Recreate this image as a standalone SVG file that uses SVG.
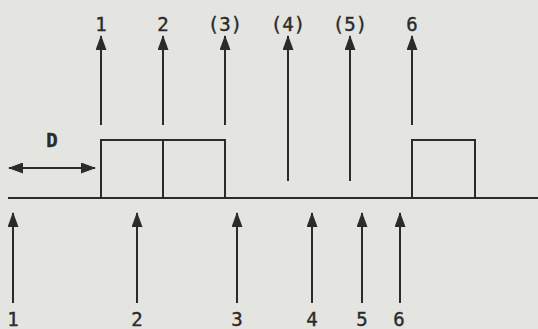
<svg xmlns="http://www.w3.org/2000/svg" width="538" height="329" viewBox="0 0 538 329">
  <defs>
    <marker id="ah" viewBox="0 0 15 11" refX="14" refY="5.5" markerWidth="15" markerHeight="11" markerUnits="userSpaceOnUse" orient="auto-start-reverse">
      <path d="M0,0 L15,5.5 L0,11 Z" fill="#2b2b2b"/>
    </marker>
  </defs>
  <style>
    .ln { stroke: #2b2b2b; stroke-width: 2; fill: none; }
    .ar { stroke: #2b2b2b; stroke-width: 2; fill: none; marker-end: url(#ah); }
    .da { stroke: #2b2b2b; stroke-width: 2; fill: none; marker-end: url(#ah); marker-start: url(#ah); }
    .lb { font-family: "DejaVu Sans Mono", "Liberation Mono", monospace; font-size: 19px; fill: #2b2b2b; stroke: #2b2b2b; stroke-width: 0.4; text-anchor: middle; }
  </style>
  <rect x="0" y="0" width="538" height="329" fill="#e4e4e1"/>

  <g id="baseline">
    <line class="ln" x1="8" y1="198" x2="538" y2="198"/>
  </g>

  <g id="boxes">
    <path class="ln" d="M101,198 V140 H225 V198 M163,140 V198"/>
    <path class="ln" d="M412,198 V140 H475 V198"/>
  </g>

  <g id="D">
    <text class="lb" x="52" y="147" font-weight="bold">D</text>
  </g>

  <g id="connectors">
    <line class="da" x1="9" y1="168" x2="95" y2="168"/>
    <line class="ar" x1="101" y1="125" x2="101" y2="36"/>
    <line class="ar" x1="163" y1="125" x2="163" y2="36"/>
    <line class="ar" x1="225" y1="125" x2="225" y2="36"/>
    <line class="ar" x1="288" y1="181" x2="288" y2="36"/>
    <line class="ar" x1="350" y1="181" x2="350" y2="36"/>
    <line class="ar" x1="412" y1="125" x2="412" y2="36"/>

    <line class="ar" x1="13" y1="303" x2="13" y2="213"/>
    <line class="ar" x1="137" y1="303" x2="137" y2="213"/>
    <line class="ar" x1="237" y1="303" x2="237" y2="213"/>
    <line class="ar" x1="312" y1="303" x2="312" y2="213"/>
    <line class="ar" x1="362" y1="303" x2="362" y2="213"/>
    <line class="ar" x1="400" y1="303" x2="400" y2="213"/>
  </g>

  <g id="top-labels">
    <text class="lb" x="101" y="31">1</text>
    <text class="lb" x="163" y="31">2</text>
    <text class="lb" x="225" y="31">(3)</text>
    <text class="lb" x="288" y="31">(4)</text>
    <text class="lb" x="350" y="31">(5)</text>
    <text class="lb" x="412" y="31">6</text>
  </g>

  <g id="bottom-labels">
    <text class="lb" x="13" y="326">1</text>
    <text class="lb" x="137" y="326">2</text>
    <text class="lb" x="237" y="326">3</text>
    <text class="lb" x="312" y="326">4</text>
    <text class="lb" x="362" y="326">5</text>
    <text class="lb" x="399" y="326">6</text>
  </g>
</svg>
